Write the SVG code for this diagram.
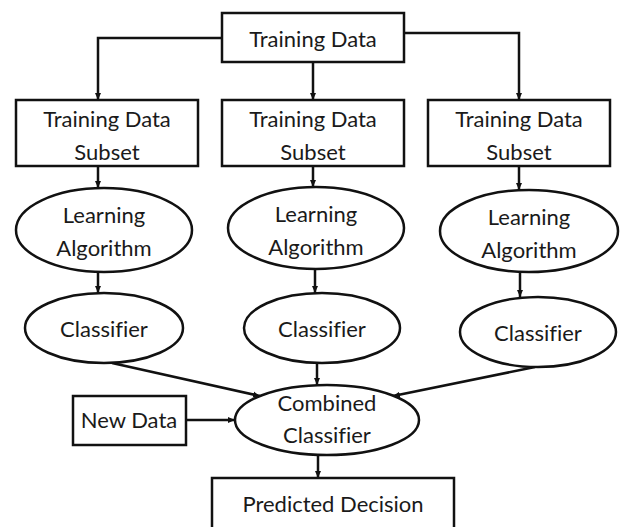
<svg xmlns="http://www.w3.org/2000/svg" width="622" height="527" viewBox="0 0 622 527">
<defs>
<marker id="ah" markerWidth="8" markerHeight="8" refX="7" refY="4" orient="auto" markerUnits="userSpaceOnUse">
<path d="M0,1 L7,4 L0,7 Z" fill="#111"/>
</marker>
<style>
.box{fill:#fff;stroke:#111;stroke-width:2.5}
.t{font-family:Lato,"Open Sans",sans-serif;font-size:22px;fill:#1a1a1a;text-anchor:middle;font-variant-ligatures:none}
.c{fill:none;stroke:#111;stroke-width:2.5;marker-end:url(#ah)}
</style>
</defs>
<rect width="622" height="527" fill="#fff"/>
<g id="connectors">
<path class="c" d="M222,38 H98 V100"/>
<path class="c" d="M404,33 H519 V100"/>
<path class="c" d="M313,62 V100"/>
<path class="c" d="M98,166 V188"/>
<path class="c" d="M313,166 V187"/>
<path class="c" d="M519,166 V190"/>
<path class="c" d="M98,271 V293"/>
<path class="c" d="M315,269 V293"/>
<path class="c" d="M520,272 V297"/>
<path class="c" d="M112,363 L260,396"/>
<path class="c" d="M317,363 V385"/>
<path class="c" d="M535,367 L393,396"/>
<path class="c" d="M186,420 H235"/>
<path class="c" d="M318,454 V478"/>
</g>
<g id="training-data"><rect class="box" x="222" y="13" width="182" height="49"/><text class="t" x="313" y="47">Training Data</text></g>
<g id="subset-1"><rect class="box" x="16" y="100" width="182" height="66"/><text class="t" x="107" y="127">Training Data</text><text class="t" x="107" y="160">Subset</text></g>
<g id="subset-2"><rect class="box" x="222" y="100" width="182" height="66"/><text class="t" x="313" y="127">Training Data</text><text class="t" x="313" y="160">Subset</text></g>
<g id="subset-3"><rect class="box" x="428" y="100" width="182" height="66"/><text class="t" x="519" y="127">Training Data</text><text class="t" x="519" y="160">Subset</text></g>
<g id="learning-1"><ellipse class="box" cx="104" cy="230" rx="88" ry="42"/><text class="t" x="104" y="223">Learning</text><text class="t" x="104" y="256">Algorithm</text></g>
<g id="learning-2"><ellipse class="box" cx="316" cy="228" rx="88" ry="41"/><text class="t" x="316" y="222">Learning</text><text class="t" x="316" y="255">Algorithm</text></g>
<g id="learning-3"><ellipse class="box" cx="529" cy="231" rx="89" ry="41"/><text class="t" x="529" y="225">Learning</text><text class="t" x="529" y="258">Algorithm</text></g>
<g id="classifier-1"><ellipse class="box" cx="104" cy="328" rx="79" ry="35"/><text class="t" x="104" y="337">Classifier</text></g>
<g id="classifier-2"><ellipse class="box" cx="322" cy="328" rx="78" ry="35"/><text class="t" x="322" y="337">Classifier</text></g>
<g id="classifier-3"><ellipse class="box" cx="538" cy="332" rx="78" ry="35"/><text class="t" x="538" y="341">Classifier</text></g>
<g id="combined"><ellipse class="box" cx="327" cy="420" rx="92" ry="35"/><text class="t" x="327" y="411">Combined</text><text class="t" x="327" y="443">Classifier</text></g>
<g id="new-data"><rect class="box" x="73" y="396" width="113" height="49"/><text class="t" x="129" y="428">New Data</text></g>
<g id="predicted"><rect class="box" x="212" y="478" width="242" height="52"/><text class="t" x="333" y="512">Predicted Decision</text></g>
</svg>
